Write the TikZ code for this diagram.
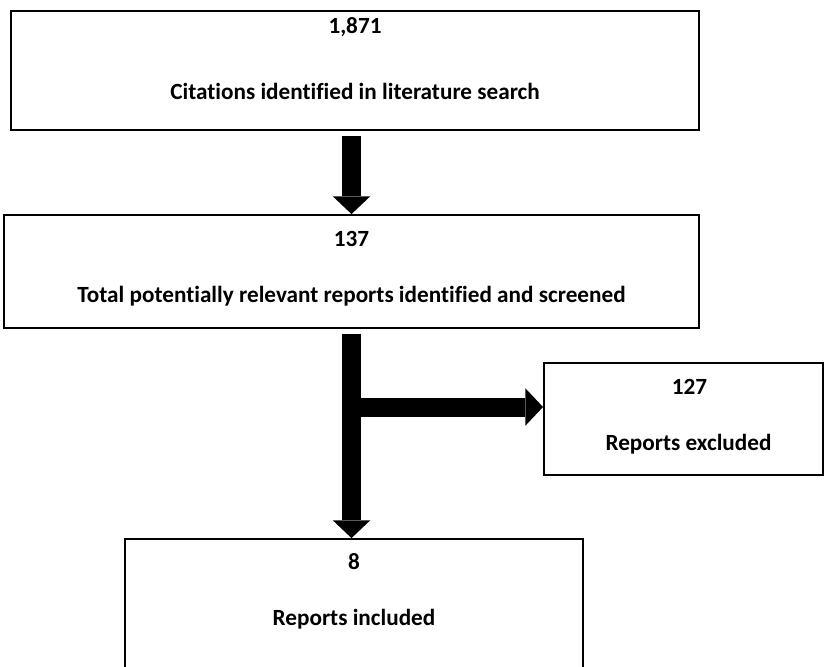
\documentclass[tikz,border=0pt]{standalone}
\usepackage{fontspec}
\setmainfont{Carlito}[Ligatures={NoCommon,NoRare}]
\usepackage{tikz}
\usetikzlibrary{positioning, arrows.meta, calc}

\begin{document}
\begin{tikzpicture}[x=0.03cm, y=-0.03cm,
        every node/.style={align=center},
        box/.style={draw, line width=1.6pt},
        txt/.style={font=\fontsize{19.8}{24}\selectfont\bfseries, inner sep=0pt},
        flow/.style={line width=0.57cm, -{Triangle[width=1.12cm, length=0.53cm, line width=0pt]}}]

        % page 825 x 666
        \clip (0,0) rectangle (825,666);

        % boxes
        \node[box, minimum width=20.64cm, minimum height=3.57cm] (cit) at (355, 70.5)  {};
        \node[box, minimum width=20.85cm, minimum height=3.39cm] (scr) at (351.5, 271.5) {};
        \node[box, minimum width=8.37cm,  minimum height=3.36cm] (exc) at (683.5, 419)  {};
        \node[box, minimum width=13.74cm, minimum height=4.83cm] (inc) at (354, 619.5)  {};

        % texts in the boxes
        \node[txt] (cit-n) at ($(cit.north)+(0,17)$) {1,871};
        \node[txt] (cit-t) at ($(cit.north)+(0,81)$) {Citations identified in literature search};
        \node[txt] (scr-n) at ($(scr.north)+(0,25)$) {137};
        \node[txt] (scr-t) at ($(scr.north)+(0,82)$) {Total potentially relevant reports identified and screened};
        \node[txt] (exc-n) at ($(exc.north)+(6,25)$) {127};
        \node[txt] (exc-t) at ($(exc.north)+(5,82)$) {Reports excluded};
        \node[txt] (inc-n) at ($(inc.north)+(0,24)$) {8};
        \node[txt] (inc-t) at ($(inc.north)+(0,81)$) {Reports included};

        % arrows
        \coordinate (fork) at ([yshift=0.36cm]exc.west);
        \draw[flow, shorten <=0.15cm] (scr.north |- cit.south) -- (scr.north);
        \draw[flow, shorten <=0.15cm] (scr.south) -- (scr.south |- inc.north);
        \draw[flow] (scr.south |- fork) -- (fork);
    \end{tikzpicture}
\end{document}
